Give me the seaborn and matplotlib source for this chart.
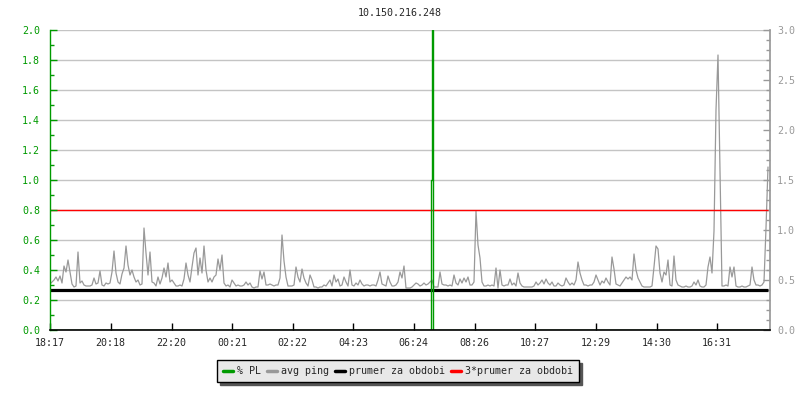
import numpy as np
import pandas as pd
import seaborn as sns
import matplotlib.pyplot as plt
from matplotlib.lines import Line2D
from matplotlib.ticker import MultipleLocator

title = "10.150.216.248"
start_label = "18:17"
sample_minutes = 4
span_minutes = 1440

time_labels = ["18:17", "20:18", "22:20", "00:21", "02:22", "04:23",
               "06:24", "08:26", "10:27", "12:29", "14:30", "16:31"]

# avg ping (right axis), one value every 4 minutes
avg_ping = [
    0.46, 0.48, 0.50, 0.53, 0.49, 0.54, 0.47, 0.64, 0.58, 0.70, 0.58, 0.46, 0.43, 0.44, 0.78, 0.47, 0.49, 0.45, 0.44, 0.44,
    0.44, 0.45, 0.52, 0.46, 0.47, 0.59, 0.45, 0.44, 0.47, 0.46, 0.47, 0.58, 0.79, 0.57, 0.48, 0.46, 0.56, 0.62, 0.84, 0.65,
    0.55, 0.60, 0.53, 0.48, 0.50, 0.45, 0.46, 1.02, 0.77, 0.55, 0.78, 0.48, 0.47, 0.44, 0.53, 0.46, 0.52, 0.62, 0.53, 0.67,
    0.48, 0.50, 0.47, 0.44, 0.44, 0.45, 0.44, 0.51, 0.67, 0.55, 0.48, 0.63, 0.77, 0.82, 0.55, 0.72, 0.57, 0.84, 0.60, 0.48,
    0.52, 0.48, 0.53, 0.55, 0.71, 0.60, 0.75, 0.47, 0.44, 0.45, 0.43, 0.50, 0.47, 0.44, 0.45, 0.44, 0.44, 0.45, 0.48, 0.45,
    0.47, 0.43, 0.42, 0.43, 0.43, 0.59, 0.51, 0.58, 0.45, 0.45, 0.46, 0.45, 0.44, 0.45, 0.45, 0.52, 0.95, 0.69, 0.53, 0.44,
    0.44, 0.44, 0.45, 0.63, 0.53, 0.48, 0.61, 0.52, 0.47, 0.44, 0.55, 0.50, 0.43, 0.43, 0.42, 0.43, 0.43, 0.45, 0.44, 0.47,
    0.50, 0.44, 0.55, 0.48, 0.51, 0.44, 0.45, 0.53, 0.48, 0.44, 0.60, 0.45, 0.44, 0.47, 0.45, 0.50, 0.46, 0.44, 0.45, 0.45,
    0.44, 0.45, 0.45, 0.44, 0.50, 0.58, 0.46, 0.45, 0.44, 0.54, 0.48, 0.44, 0.44, 0.45, 0.48, 0.58, 0.52, 0.64, 0.42, 0.42,
    0.42, 0.43, 0.45, 0.47, 0.46, 0.44, 0.45, 0.47, 0.45, 0.46, 0.48, 0.50, 0.43, 0.43, 0.43, 0.58, 0.46, 0.45, 0.45, 0.44,
    0.45, 0.44, 0.55, 0.47, 0.45, 0.51, 0.47, 0.52, 0.48, 0.53, 0.45, 0.45, 0.48, 1.19, 0.85, 0.72, 0.48, 0.44, 0.44, 0.45,
    0.44, 0.45, 0.44, 0.62, 0.42, 0.60, 0.45, 0.44, 0.45, 0.45, 0.51, 0.45, 0.47, 0.44, 0.57, 0.47, 0.44, 0.43, 0.43, 0.43,
    0.43, 0.43, 0.44, 0.48, 0.45, 0.47, 0.50, 0.46, 0.51, 0.47, 0.45, 0.48, 0.44, 0.44, 0.47, 0.45, 0.44, 0.45, 0.52, 0.48,
    0.45, 0.47, 0.45, 0.50, 0.68, 0.57, 0.50, 0.45, 0.45, 0.44, 0.45, 0.45, 0.48, 0.55, 0.50, 0.45, 0.49, 0.47, 0.52, 0.48,
    0.45, 0.73, 0.61, 0.46, 0.45, 0.44, 0.47, 0.50, 0.53, 0.51, 0.53, 0.50, 0.76, 0.60, 0.52, 0.48, 0.44, 0.43, 0.43, 0.43,
    0.43, 0.44, 0.63, 0.84, 0.81, 0.57, 0.48, 0.58, 0.55, 0.70, 0.45, 0.44, 0.74, 0.50, 0.45, 0.44, 0.43, 0.43, 0.44, 0.43,
    0.43, 0.44, 0.48, 0.45, 0.50, 0.44, 0.43, 0.43, 0.45, 0.63, 0.73, 0.57, 0.99, 2.20, 2.75, 1.59, 0.44, 0.44, 0.45, 0.44,
    0.63, 0.53, 0.63, 0.44, 0.43, 0.43, 0.44, 0.43, 0.43, 0.44, 0.45, 0.63, 0.50, 0.45, 0.45, 0.44, 0.45, 0.48, 1.02, 1.63,
]

# % packet loss (left axis): zero except one short burst
pl_minutes = [0, 762, 764, 765, 1436]
pl_values = [0.0, 1.0, 2.0, 0.0, 0.0]

prumer = 0.399  # average for the period, right axis units

GREEN = "#009a00"
GREY = "#999999"
GRID = "#c4c4c4"
FS = 7.2


def minutes_from_start(label):
    h, m = map(int, label.split(":"))
    h0, m0 = map(int, start_label.split(":"))
    return (h * 60 + m - h0 * 60 - m0) % span_minutes


df = pd.DataFrame({"minute": np.arange(len(avg_ping)) * sample_minutes,
                   "ping": avg_ping})

sns.set_theme(style="white")
plt.rcParams["font.family"] = ["DejaVu Sans Mono"]

fig = plt.figure(figsize=(8, 4), dpi=100)
ax = fig.add_axes([50 / 800, 70 / 400, 720 / 800, 300 / 400])
ax_ping = ax.twinx()
ax_pl = ax.twinx()

# base axes: grid + time axis
ax.set_xlim(0, span_minutes)
ax.set_ylim(0, 2)
ax.yaxis.set_major_locator(MultipleLocator(0.2))
ax.grid(axis="y", color=GRID, linewidth=1)
ax.grid(axis="x", visible=False)
ax.set_xticks([minutes_from_start(t) for t in time_labels])
ax.set_xticklabels(time_labels)
ax.tick_params(axis="x", direction="in", length=5, width=1, color="black",
               labelsize=FS, pad=6, bottom=True)
ax.tick_params(axis="y", left=False, right=False, labelleft=False, labelright=False)
for s in ax.spines.values():
    s.set_visible(False)

# ping axis on the right
sns.lineplot(data=df, x="minute", y="ping", ax=ax_ping, color=GREY, linewidth=0.9)
ax_ping.hlines(prumer, df["minute"].iloc[0], df["minute"].iloc[-1], color="black", linewidth=2.3)
ax_ping.hlines(3 * prumer, df["minute"].iloc[0], df["minute"].iloc[-1], color="#ff0000", linewidth=1)
ax_ping.set_ylim(0, 3)
ax_ping.set_xlim(0, span_minutes)
ax_ping.yaxis.set_major_locator(MultipleLocator(0.5))
ax_ping.yaxis.set_minor_locator(MultipleLocator(0.1))
ax_ping.yaxis.set_major_formatter(lambda v, p: f"{v:.1f}")
ax_ping.tick_params(axis="y", which="major", direction="in", length=5, width=1,
                    color=GREY, labelcolor=GREY, labelsize=FS, pad=5)
ax_ping.tick_params(axis="y", which="minor", direction="in", length=3, width=1, color=GREY)
ax_ping.set_ylabel("")
ax_ping.set_xlabel("")
for name, s in ax_ping.spines.items():
    s.set_visible(name == "right")
ax_ping.spines["right"].set_color(GREY)

# packet loss axis on the left, drawn on top
sns.lineplot(x=pl_minutes, y=pl_values, ax=ax_pl, color=GREEN, linewidth=1.0,
             drawstyle="steps-post")
ax_pl.set_ylim(0, 2)
ax_pl.set_xlim(0, span_minutes)
ax_pl.yaxis.tick_left()
ax_pl.yaxis.set_label_position("left")
ax_pl.yaxis.set_major_locator(MultipleLocator(0.2))
ax_pl.yaxis.set_minor_locator(MultipleLocator(0.1))
ax_pl.yaxis.set_major_formatter(lambda v, p: f"{v:.1f}")
ax_pl.tick_params(axis="y", which="major", direction="in", length=5, width=1,
                  color=GREEN, labelcolor=GREEN, labelsize=FS, pad=7)
ax_pl.tick_params(axis="y", which="minor", direction="in", length=3, width=1, color=GREEN)
ax_pl.set_ylabel("")
for name, s in ax_pl.spines.items():
    s.set_visible(name in ("left", "bottom"))
ax_pl.spines["left"].set_color(GREEN)
ax_pl.spines["bottom"].set_color("black")
ax_pl.spines["left"].set_linewidth(1)
ax_pl.spines["bottom"].set_linewidth(1.2)

fig.text(0.5, 1 - 13 / 400, title, ha="center", va="center", fontsize=FS)

handles = [Line2D([], [], color=GREEN, linewidth=2.5),
           Line2D([], [], color=GREY, linewidth=2.5),
           Line2D([], [], color="black", linewidth=2.5),
           Line2D([], [], color="#ff0000", linewidth=2.5)]
labels = ["% PL", "avg ping", "prumer za obdobi", "3*prumer za obdobi"]
leg = fig.legend(handles, labels, loc="center", bbox_to_anchor=(0.498, 1 - 371 / 400),
                 ncol=4, fontsize=FS, frameon=True, fancybox=False, framealpha=1,
                 facecolor="#e8e8e8", edgecolor="black",
                 shadow={"color": "#555555", "alpha": 1},
                 handlelength=1.0, handletextpad=0.4, columnspacing=0.6, borderpad=0.6)
leg.get_frame().set_linewidth(1)

fig.savefig("out.png", dpi=100)
